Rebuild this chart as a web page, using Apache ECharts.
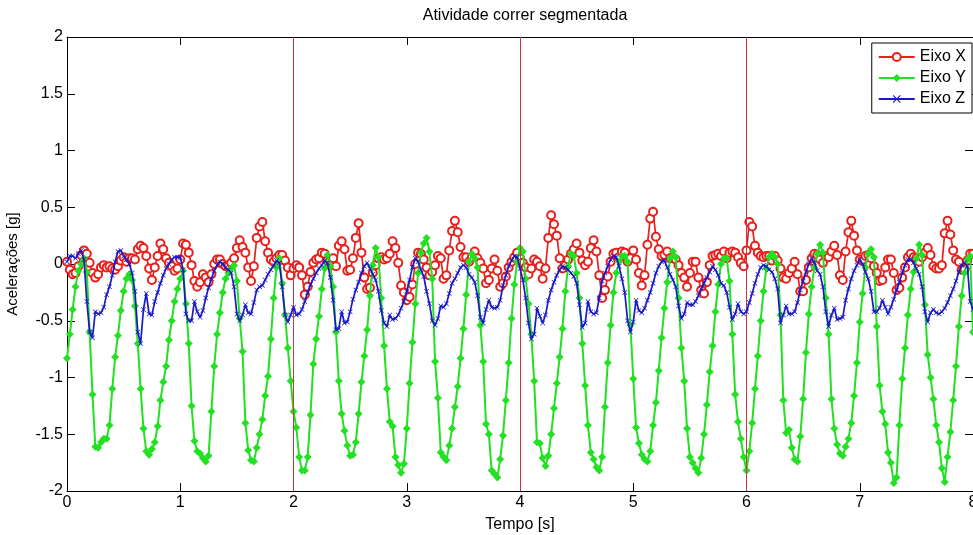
<!DOCTYPE html>
<html>
<head>
<meta charset="utf-8">
<script src="https://cdn.jsdelivr.net/npm/echarts@6/dist/echarts.min.js"></script>
<style>
html,body{margin:0;padding:0;background:#fff;}
#chart{width:973px;height:535px;}
</style>
</head>
<body>
<div id="chart"></div>
<script>
// Sampling: 40 samples per second, t = 0 .. 8 s
const sampleRate = 40;
const xTicks = [0,1,2,3,4,5,6,7,8];
const yTicks = [-2,-1.5,-1,-0.5,0,0.5,1,1.5,2];
const segmentMarks = [2,4,6];
const seriesNames = ['Eixo X','Eixo Y','Eixo Z'];

const eixoX = [
0.02,-0.05,-0.09,-0.08,-0.02,0.08,0.12,0.09,0.01,-0.08,
-0.12,-0.09,-0.03,-0.01,-0.03,-0.02,-0.04,-0.05,-0.02,0.03,
0.06,0.02,0.05,0.05,0.04,0.13,0.16,0.14,0.07,-0.04,
-0.14,-0.03,0.07,0.18,0.13,0.05,0.01,-0.02,-0.06,-0.04,
0.04,0.18,0.17,0.10,-0.01,-0.15,-0.20,-0.16,-0.09,-0.12,
-0.16,-0.09,0.00,0.04,0.04,0.00,-0.02,-0.02,0.01,0.05,
0.14,0.21,0.15,0.10,-0.03,-0.15,-0.02,0.23,0.33,0.37,
0.20,0.10,0.04,0.02,0.05,0.08,0.08,0.03,-0.03,-0.10,
-0.04,-0.01,-0.03,-0.10,-0.27,-0.20,-0.07,0.01,0.04,0.05,
0.10,0.09,0.03,-0.01,0.05,-0.02,0.16,0.20,0.13,-0.06,
-0.05,0.05,0.23,0.36,0.10,-0.12,-0.22,-0.21,-0.08,-0.01,
0.05,0.06,0.04,0.05,0.09,0.20,0.14,0.01,-0.19,-0.25,
-0.32,-0.29,-0.18,0.00,0.10,0.09,0.04,-0.03,-0.10,-0.07,
-0.01,0.07,0.05,-0.13,-0.10,0.12,0.29,0.38,0.28,0.15,
0.06,0.06,0.02,0.06,0.11,0.05,0.01,-0.04,-0.17,-0.14,
-0.04,0.04,-0.06,-0.20,-0.17,-0.11,-0.03,0.02,0.06,0.10,
0.05,0.01,-0.03,-0.09,-0.04,0.04,0.02,-0.02,-0.13,-0.04,
0.23,0.43,0.35,0.25,0.05,-0.04,-0.01,0.04,0.09,0.13,
0.18,0.10,0.03,-0.01,0.02,0.14,0.21,0.11,-0.10,-0.30,
-0.23,-0.11,0.02,0.09,0.10,0.06,0.11,0.10,0.02,0.05,
0.12,0.04,-0.08,-0.19,-0.10,0.17,0.40,0.46,0.24,0.13,
0.07,0.08,0.11,0.05,0.05,0.04,-0.01,-0.08,-0.12,-0.20,
-0.08,0.02,0.02,-0.12,-0.23,-0.26,-0.16,-0.01,0.07,0.08,
0.09,0.07,0.11,0.05,0.10,0.11,0.10,0.06,0.01,-0.02,
0.12,0.37,0.33,0.16,0.10,0.07,0.06,0.07,0.07,0.03,
0.07,0.03,-0.04,-0.12,-0.13,-0.08,-0.04,0.02,-0.09,-0.24,
-0.24,-0.14,-0.03,0.05,0.09,0.08,0.04,0.01,0.07,0.06,
0.11,0.16,0.08,-0.10,-0.14,0.11,0.28,0.38,0.25,0.12,
0.04,0.03,0.07,0.08,0.05,-0.02,-0.08,-0.15,-0.14,-0.03,
0.04,0.04,-0.08,-0.23,-0.21,-0.12,-0.03,0.06,0.09,0.06,
0.05,0.02,0.06,0.10,0.14,0.08,-0.02,-0.04,-0.04,-0.01,
0.27,0.38,0.26,0.12,0.04,0.02,-0.05,-0.05,0.03,0.09,
0.09
];

const eixoY = [
-0.83,-0.62,-0.40,-0.20,-0.06,0.00,0.05,-0.07,-0.60,-1.15,
-1.61,-1.62,-1.57,-1.54,-1.54,-1.42,-1.10,-0.82,-0.63,-0.41,
-0.24,-0.13,-0.09,-0.14,-0.37,-0.70,-1.10,-1.45,-1.65,-1.68,
-1.63,-1.57,-1.43,-1.20,-1.04,-0.90,-0.67,-0.50,-0.33,-0.22,
-0.13,-0.06,-0.35,-0.70,-1.25,-1.56,-1.65,-1.67,-1.71,-1.74,
-1.69,-1.30,-0.90,-0.62,-0.43,-0.25,-0.13,-0.08,-0.04,-0.01,
-0.15,-0.48,-0.77,-1.40,-1.64,-1.73,-1.74,-1.62,-1.50,-1.37,
-1.16,-0.99,-0.66,-0.30,-0.03,0.05,-0.17,-0.45,-0.74,-1.03,
-1.30,-1.44,-1.70,-1.82,-1.82,-1.70,-1.33,-0.88,-0.66,-0.46,
-0.22,-0.04,0.08,-0.02,-0.20,-0.60,-1.03,-1.32,-1.47,-1.60,
-1.69,-1.68,-1.57,-1.32,-1.04,-0.81,-0.58,-0.28,-0.01,0.14,
0.06,-0.30,-0.72,-1.10,-1.39,-1.43,-1.70,-1.77,-1.84,-1.76,
-1.45,-1.05,-0.69,-0.35,-0.08,0.10,0.18,0.23,0.11,-0.13,
-0.86,-1.18,-1.66,-1.70,-1.73,-1.60,-1.45,-1.26,-1.08,-0.83,
-0.57,-0.27,0.02,0.09,0.05,-0.03,-0.54,-0.86,-1.41,-1.50,
-1.82,-1.85,-1.88,-1.72,-1.51,-1.20,-0.87,-0.48,-0.18,0.02,
0.14,0.11,-0.13,-0.35,-0.62,-1.03,-1.57,-1.58,-1.71,-1.78,
-1.69,-1.50,-1.27,-1.05,-0.82,-0.57,-0.24,-0.02,0.09,0.07,
-0.08,-0.30,-0.70,-1.07,-1.42,-1.66,-1.72,-1.79,-1.82,-1.70,
-1.26,-0.87,-0.54,-0.25,-0.08,0.02,0.07,0.07,0.02,-0.54,
-1.01,-1.44,-1.58,-1.68,-1.72,-1.74,-1.65,-1.42,-1.22,-0.94,
-0.65,-0.39,-0.16,0.05,0.11,0.06,-0.30,-0.74,-1.03,-1.45,
-1.70,-1.75,-1.80,-1.84,-1.71,-1.50,-1.24,-0.95,-0.72,-0.42,
-0.18,0.00,0.05,0.05,-0.15,-0.62,-1.15,-1.39,-1.54,-1.70,
-1.82,-1.65,-1.40,-1.10,-0.81,-0.50,-0.24,-0.04,0.06,0.09,
0.06,0.00,-0.45,-1.20,-1.49,-1.46,-1.62,-1.72,-1.74,-1.52,
-1.19,-0.78,-0.44,-0.20,-0.03,0.09,0.17,0.10,-0.30,-0.62,
-1.19,-1.45,-1.59,-1.67,-1.69,-1.61,-1.54,-1.40,-1.16,-0.87,
-0.51,-0.26,-0.03,0.09,0.13,0.06,-0.55,-1.07,-1.30,-1.41,
-1.66,-1.75,-1.93,-1.88,-1.42,-1.01,-0.74,-0.45,-0.22,-0.07,
0.05,0.17,0.08,-0.36,-0.80,-1.00,-1.19,-1.42,-1.57,-1.80,
-1.92,-1.70,-1.48,-1.20,-0.90,-0.55,-0.28,-0.08,0.04,0.07,
-0.60
];

const eixoZ = [
0.02,0.07,0.07,0.05,0.09,0.12,0.04,-0.33,-0.60,-0.65,
-0.42,-0.44,-0.43,-0.38,-0.27,-0.20,-0.10,0.02,0.11,0.12,
0.07,0.04,0.00,-0.08,-0.24,-0.60,-0.70,-0.40,-0.26,-0.44,
-0.45,-0.33,-0.25,-0.17,-0.10,-0.04,0.00,0.04,0.06,0.06,
0.06,-0.05,-0.44,-0.50,-0.50,-0.33,-0.42,-0.47,-0.41,-0.30,
-0.21,-0.13,-0.06,-0.01,0.02,0.00,-0.03,-0.05,-0.08,-0.20,
-0.44,-0.50,-0.45,-0.36,-0.43,-0.44,-0.34,-0.23,-0.20,-0.19,
-0.14,-0.09,-0.05,-0.01,0.03,0.01,-0.20,-0.45,-0.51,-0.45,
-0.38,-0.45,-0.44,-0.40,-0.33,-0.25,-0.18,-0.13,-0.08,-0.04,
-0.01,0.03,0.01,-0.12,-0.32,-0.58,-0.57,-0.42,-0.52,-0.51,
-0.42,-0.31,-0.23,-0.16,-0.08,-0.02,0.01,-0.04,-0.09,-0.14,
-0.24,-0.41,-0.52,-0.55,-0.45,-0.49,-0.48,-0.45,-0.39,-0.33,
-0.24,-0.14,-0.03,0.05,0.02,-0.05,-0.11,-0.24,-0.35,-0.50,
-0.54,-0.48,-0.37,-0.38,-0.35,-0.26,-0.17,-0.13,-0.08,-0.03,
-0.01,-0.03,-0.09,-0.12,-0.16,-0.28,-0.47,-0.52,-0.40,-0.32,
-0.38,-0.39,-0.38,-0.32,-0.19,-0.10,-0.02,0.03,0.07,0.06,
-0.04,-0.14,-0.30,-0.52,-0.66,-0.62,-0.39,-0.46,-0.52,-0.45,
-0.32,-0.23,-0.16,-0.10,-0.05,-0.02,-0.03,-0.05,-0.08,-0.11,
-0.17,-0.36,-0.56,-0.52,-0.33,-0.42,-0.44,-0.43,-0.30,-0.15,
-0.08,-0.02,0.04,0.07,0.06,-0.02,-0.13,-0.25,-0.50,-0.60,
-0.51,-0.32,-0.41,-0.43,-0.39,-0.32,-0.25,-0.17,-0.08,-0.02,
0.02,0.03,-0.03,-0.09,-0.14,-0.20,-0.37,-0.48,-0.44,-0.34,
-0.36,-0.36,-0.33,-0.28,-0.22,-0.17,-0.12,-0.07,-0.02,-0.05,
-0.10,-0.17,-0.19,-0.25,-0.38,-0.49,-0.44,-0.35,-0.42,-0.44,
-0.42,-0.34,-0.26,-0.17,-0.09,-0.03,-0.01,-0.02,-0.05,-0.07,
-0.13,-0.22,-0.52,-0.45,-0.37,-0.44,-0.44,-0.42,-0.34,-0.23,
-0.15,-0.07,0.00,0.05,0.01,-0.06,-0.09,-0.20,-0.42,-0.55,
-0.45,-0.39,-0.49,-0.48,-0.47,-0.32,-0.22,-0.13,-0.06,-0.01,
0.04,0.00,-0.07,-0.13,-0.24,-0.42,-0.42,-0.39,-0.32,-0.38,
-0.44,-0.38,-0.31,-0.23,-0.16,-0.08,-0.01,0.04,0.04,0.01,
-0.04,-0.09,-0.20,-0.42,-0.51,-0.43,-0.40,-0.43,-0.44,-0.42,
-0.39,-0.34,-0.28,-0.22,-0.15,-0.07,-0.01,0.01,-0.02,-0.33,
-0.40
];

const time = eixoX.map((_, i) => i / sampleRate);
const pairs = arr => arr.map((v, i) => [time[i], v]);

const FONT = 'Liberation Sans, Arial, sans-serif';
const xShape = 'path://M0,1L1,0L5,4L9,0L10,1L6,5L10,9L9,10L5,6L1,10L0,9L4,5Z';

const chart = echarts.init(document.getElementById('chart'), null, {renderer: 'canvas'});

const baseX = {
  type: 'value', min: xTicks[0], max: xTicks[xTicks.length - 1], interval: 1,
  axisLine: {show: true, onZero: false, lineStyle: {color: '#000', width: 1}},
  axisTick: {show: true, inside: true, length: 8, lineStyle: {color: '#000'}},
  splitLine: {show: false}
};
const baseY = {
  type: 'value', min: yTicks[0], max: yTicks[yTicks.length - 1], interval: 0.5,
  axisLine: {show: true, onZero: false, lineStyle: {color: '#000', width: 1}},
  axisTick: {show: true, inside: true, length: 8, lineStyle: {color: '#000'}},
  splitLine: {show: false}
};

chart.setOption({
  animation: false,
  backgroundColor: '#fff',
  textStyle: {fontFamily: FONT},
  title: {
    text: 'Atividade correr segmentada',
    left: 520, top: 3, textAlign: 'center',
    textStyle: {fontFamily: FONT, fontSize: 16, fontWeight: 'normal', color: '#000'}
  },
  grid: {left: 67, right: 0, top: 37, bottom: 44, containLabel: false, outerBoundsMode: 'none'},
  legend: {
    data: seriesNames,
    orient: 'vertical',
    right: 1, top: 43,
    padding: [6, 6, 6, 6],
    itemWidth: 36, itemHeight: 10, itemGap: 5,
    backgroundColor: '#fff',
    borderColor: '#000', borderWidth: 1, borderRadius: 0,
    textStyle: {fontFamily: FONT, fontSize: 16, color: '#000', lineHeight: 16}
  },
  xAxis: [
    Object.assign({}, baseX, {
      position: 'bottom',
      name: 'Tempo [s]', nameLocation: 'middle', nameGap: 26,
      nameTextStyle: {fontFamily: FONT, fontSize: 16, color: '#000'},
      axisLabel: {fontFamily: FONT, fontSize: 16, color: '#000', margin: 4}
    }),
    Object.assign({}, baseX, {position: 'top', axisLabel: {show: false}})
  ],
  yAxis: [
    Object.assign({}, baseY, {
      position: 'left',
      name: 'Acelerações [g]', nameLocation: 'middle', nameGap: 47, nameRotate: 90,
      nameTextStyle: {fontFamily: FONT, fontSize: 15, color: '#000'},
      axisLabel: {fontFamily: FONT, fontSize: 16, color: '#000', margin: 4}
    }),
    Object.assign({}, baseY, {position: 'right', axisLabel: {show: false}})
  ],
  series: [
    {
      name: 'segmentos', type: 'line', data: [], z: 1, silent: true,
      markLine: {
        silent: true, symbol: 'none', animation: false,
        label: {show: false},
        lineStyle: {color: '#c8383c', width: 1, type: 'solid'},
        data: segmentMarks.map(v => ({xAxis: v}))
      }
    },
    {
      name: seriesNames[0], type: 'line', data: pairs(eixoX), z: 3,
      symbol: 'emptyCircle', symbolSize: 8, showSymbol: true, showAllSymbol: true,
      lineStyle: {color: '#e8201c', width: 1.7},
      itemStyle: {color: '#e8201c', borderColor: '#e8201c', borderWidth: 1.3}
    },
    {
      name: seriesNames[1], type: 'line', data: pairs(eixoY), z: 4,
      symbol: 'diamond', symbolSize: 8, showSymbol: true, showAllSymbol: true,
      lineStyle: {color: '#22e022', width: 2},
      itemStyle: {color: '#22e022'}
    },
    {
      name: seriesNames[2], type: 'line', data: pairs(eixoZ), z: 5,
      symbol: xShape, symbolSize: 5, showSymbol: true, showAllSymbol: true,
      lineStyle: {color: '#1818c8', width: 1.7},
      itemStyle: {color: '#1818c8'}
    }
  ]
});
</script>
</body>
</html>
